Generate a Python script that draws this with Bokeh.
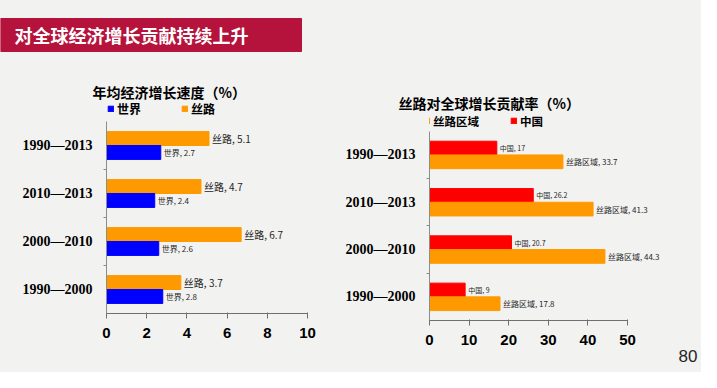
from bokeh.plotting import figure
from bokeh.models import Range1d, FixedTicker, Legend, LegendItem, Title, ColumnDataSource, Spacer
from bokeh.layouts import column, row
from bokeh.transform import dodge
from bokeh.core.properties import value
from bokeh.embed import file_html
from bokeh.resources import INLINE

# ---------------- data ----------------
banner_text = "对全球经济增长贡献持续上升"
page_no = "80"

periods = ["1990—2000", "2000—2010", "2010—2013", "1990—2013"]   # bottom -> top
growth_world = [2.8, 2.6, 2.4, 2.7]
growth_silk = [3.7, 6.7, 4.7, 5.1]
contrib_region = [17.8, 44.3, 41.3, 33.7]
contrib_china = [9, 20.7, 26.2, 17]

left_title = "年均经济增长速度（%）"
right_title = "丝路对全球增长贡献率（%）"
left_ticks = [0, 2, 4, 6, 8, 10]
right_ticks = [0, 10, 20, 30, 40, 50]

# ---------------- style ----------------
BG = "#f2f2f0"
BGS = {"background-color": BG}
CJK = "Noto Sans CJK SC"
ORANGE = "#ff9900"
BLUE = "#0000ff"
RED = "#ff0000"
BANNER = "#b5133c"
AXIS = "#6f6f6f"


def make_chart(W, H, bl, br, bt, bb, ppx, ppc, xt,
               top_vals, top_name, top_color, top_fs,
               bot_vals, bot_name, bot_color, bot_fs,
               title, title_offset, legend_x, legend_top_gap, legend_spacing, legend_fs):
    fw = W - bl - br
    fh = H - bt - bb
    pos = list(range(len(periods)))
    src = ColumnDataSource(dict(
        pos=pos, top=top_vals, bot=bot_vals,
        top_lab=[f"{top_name}, {v:g}" for v in top_vals],
        bot_lab=[f"{bot_name}, {v:g}" for v in bot_vals]))
    p = figure(width=W, height=H, x_range=Range1d(0, fw / ppx),
               y_range=Range1d(-0.5, -0.5 + fh / ppc),
               output_backend="svg", toolbar_location=None,
               min_border_left=bl, min_border_right=br,
               min_border_top=bt, min_border_bottom=bb,
               background_fill_color=BG, border_fill_color=BG,
               outline_line_color=None, styles=BGS)
    h = 0.29
    r_top = p.hbar(y=dodge('pos', h / 2, range=p.y_range), left=0, right='top',
                   height=h, color=top_color, source=src)
    r_bot = p.hbar(y=dodge('pos', -h / 2, range=p.y_range), left=0, right='bot',
                   height=h, color=bot_color, source=src)
    p.text(x='top', y=dodge('pos', h / 2, range=p.y_range), text='top_lab', x_offset=3,
           text_baseline='middle', text_font_size=top_fs, text_font=value(CJK),
           text_color="#262626", source=src)
    p.text(x='bot', y=dodge('pos', -h / 2, range=p.y_range), text='bot_lab', x_offset=3,
           text_baseline='middle', text_font_size=bot_fs, text_font=value(CJK),
           text_color="#262626", source=src)

    p.grid.visible = False
    # x axis
    p.xaxis.ticker = FixedTicker(ticks=xt, minor_ticks=[])
    p.xaxis.bounds = (xt[0], xt[-1])
    p.xaxis.axis_line_color = AXIS
    p.xaxis.major_tick_line_color = AXIS
    p.xaxis.major_tick_in = 1
    p.xaxis.major_tick_out = 5
    p.xaxis.minor_tick_line_color = None
    p.xaxis.major_label_text_font = "Liberation Sans"
    p.xaxis.major_label_text_font_style = "bold"
    p.xaxis.major_label_text_font_size = "15px"
    p.xaxis.major_label_text_color = "#000000"
    p.xaxis.major_label_standoff = 9
    # y axis
    p.yaxis.ticker = FixedTicker(ticks=pos, minor_ticks=[i + 0.5 for i in pos[:-1]])
    p.yaxis.major_label_overrides = {i: periods[i] for i in pos}
    p.yaxis.bounds = (-0.5, len(periods) - 0.5)
    p.yaxis.axis_line_color = "#8c8c8c"
    p.yaxis.major_tick_line_color = None
    p.yaxis.major_tick_in = 0
    p.yaxis.major_tick_out = 0
    p.yaxis.minor_tick_in = 0
    p.yaxis.minor_tick_out = 3
    p.yaxis.minor_tick_line_color = "#8c8c8c"
    p.yaxis.major_label_text_font = "Liberation Serif"
    p.yaxis.major_label_text_font_style = "bold"
    p.yaxis.major_label_text_font_size = "14px"
    p.yaxis.major_label_text_color = "#000000"
    p.yaxis.major_label_standoff = 11

    # title
    p.title.text = title
    p.title.align = "left"
    p.title.offset = title_offset
    p.title.text_font = CJK
    p.title.text_font_size = "14px"
    p.title.text_font_style = "bold"
    p.title.text_color = "#000000"
    p.title.standoff = 0

    # legend (inside the frame, near its top)
    it_top = LegendItem(label=top_name, renderers=[r_top])
    it_bot = LegendItem(label=bot_name, renderers=[r_bot])
    lg = Legend(items=[it_bot, it_top], orientation="horizontal",
                location=(legend_x, fh - legend_top_gap - 7),
                glyph_width=7, glyph_height=7, label_height=14, label_width=10,
                label_standoff=3, spacing=legend_spacing, padding=0, margin=0,
                background_fill_alpha=0, border_line_color=None,
                label_text_font=CJK, label_text_font_style="bold",
                label_text_font_size=legend_fs, label_text_color="#000000")
    p.add_layout(lg)
    return p


# left chart: page x 0..340, y 52..372 ; frame x 106.., y 101..313
left = make_chart(340, 320, 106, 10, 49, 59, 20.1, 48.0, left_ticks,
                  growth_silk, "丝路", ORANGE, "10px",
                  growth_world, "世界", BLUE, "8px",
                  left_title, -14, 1, 9, 40, "12px")

# right chart: page x 340..701, y 60..372 ; frame x 429.., y 112..320
right = make_chart(361, 312, 89, 34, 52, 52, 3.96, 47.3, right_ticks,
                   contrib_china, "中国", RED, "7px",
                   contrib_region, "丝路区域", ORANGE, "8px",
                   right_title, -31, -6, 9.5, 31, "11.5px")

# page number, below the right chart's axis
right.add_layout(Title(text=page_no, align="right", offset=-30, standoff=0,
                       text_font="Liberation Sans", text_font_size="17px",
                       text_font_style="normal", text_color="#262626"), "below")

# banner (coordinates are page-pixel positions)
ban = figure(width=701, height=52, x_range=Range1d(0, 701), y_range=Range1d(52, 0),
             output_backend="svg", toolbar_location=None, min_border=0,
             background_fill_color=BG, border_fill_color=BG, outline_line_color=None,
             styles=BGS)
ban.axis.visible = False
ban.grid.visible = False
ban.quad(left=0, right=301, top=18, bottom=51, color=BANNER)
ban.text(x=[14], y=[34.5], text=[banner_text], text_baseline="middle",
         text_font=value(CJK), text_font_style="bold", text_font_size="18px",
         text_color="#ffffff")

right_col = column(Spacer(width=361, height=8, styles=BGS), right, spacing=0, styles=BGS)
layout = column(ban, row(left, right_col, spacing=0, styles=BGS), spacing=0, styles=BGS)
open("out.html", "w").write(file_html(layout, INLINE))
